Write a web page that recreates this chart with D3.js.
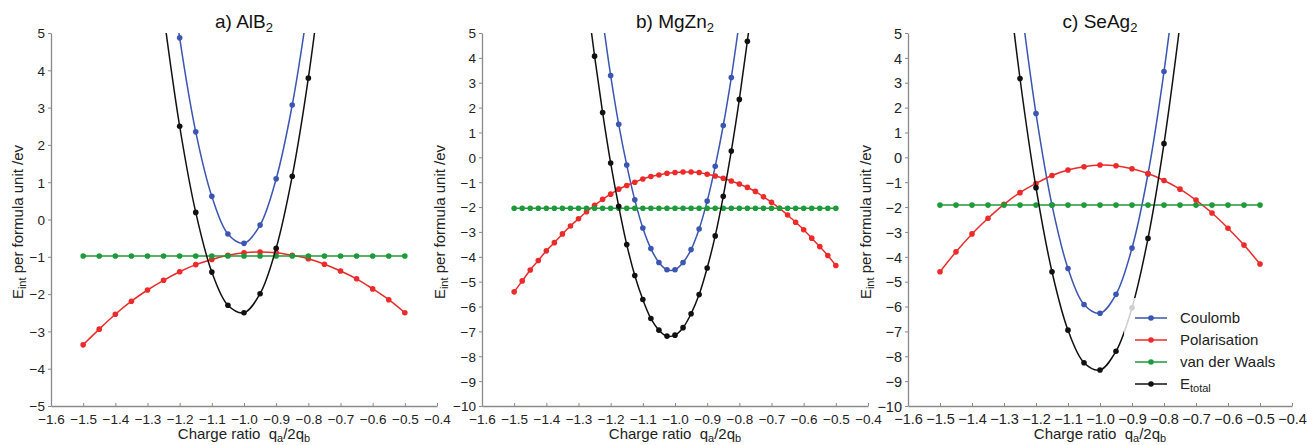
<!DOCTYPE html>
<html><head><meta charset="utf-8">
<script src="https://cdn.jsdelivr.net/npm/d3@7"></script>
<style>body{margin:0;background:#fff}svg{display:block}text{font-family:"Liberation Sans",Arial,sans-serif}</style>
</head><body>
<svg id="chart" width="1307" height="445"></svg>
<script>
// ---------- data ----------
const seriesNames = ["Coulomb", "Polarisation", "van der Waals", "E_total"];
const seriesColors = ["#3a55b2", "#ec2a2a", "#1f9a3a", "#111111"];
const xTicks = [-1.6,-1.5,-1.4,-1.3,-1.2,-1.1,-1.0,-0.9,-0.8,-0.7,-0.6,-0.5,-0.4];
const xStep05 = [-1.5,-1.45,-1.4,-1.35,-1.3,-1.25,-1.2,-1.15,-1.1,-1.05,-1.0,-0.95,-0.9,-0.85,-0.8,-0.75,-0.7,-0.65,-0.6,-0.55,-0.5];
const xStep025 = [-1.5,-1.475,-1.45,-1.425,-1.4,-1.375,-1.35,-1.325,-1.3,-1.275,-1.25,-1.225,-1.2,-1.175,-1.15,-1.125,-1.1,-1.075,-1.05,-1.025,-1.0,-0.975,-0.95,-0.925,-0.9,-0.875,-0.85,-0.825,-0.8,-0.775,-0.75,-0.725,-0.7,-0.675,-0.65,-0.625,-0.6,-0.575,-0.55,-0.525,-0.5];

// a) AlB2
const aCoulombX = [-1.25,-1.2,-1.15,-1.1,-1.05,-1.0,-0.95,-0.9,-0.85,-0.8];
const aCoulomb  = [8.14,4.87,2.35,0.62,-0.39,-0.64,-0.15,1.09,3.07,5.79];
const aPol      = [-3.36,-2.94,-2.54,-2.19,-1.89,-1.63,-1.40,-1.21,-1.07,-0.96,-0.89,-0.87,-0.89,-0.96,-1.05,-1.20,-1.38,-1.59,-1.86,-2.15,-2.50];
const aVdw      = [-0.98,-0.98,-0.98,-0.98,-0.98,-0.98,-0.98,-0.98,-0.98,-0.98,-0.98,-0.98,-0.98,-0.98,-0.98,-0.98,-0.98,-0.98,-0.98,-0.98,-0.98];
const aTotalX   = [-1.25,-1.2,-1.15,-1.1,-1.05,-1.0,-0.95,-0.9,-0.85,-0.8,-0.75];
const aTotal    = [5.52,2.50,0.19,-1.41,-2.30,-2.50,-1.99,-0.77,1.16,3.79,7.13];

// b) MgZn2
const bCoulombX = [-1.225,-1.2,-1.175,-1.15,-1.125,-1.1,-1.075,-1.05,-1.025,-1.0,-0.975,-0.95,-0.925,-0.9,-0.875,-0.85,-0.825,-0.8];
const bCoulomb  = [5.57,3.29,1.33,-0.31,-1.71,-2.84,-3.67,-4.23,-4.52,-4.52,-4.23,-3.71,-2.88,-1.76,-0.36,1.28,3.21,5.46];
const bPol      = [-5.41,-4.97,-4.53,-4.15,-3.76,-3.43,-3.08,-2.76,-2.47,-2.19,-1.93,-1.69,-1.48,-1.28,-1.13,-1.00,-0.87,-0.77,-0.71,-0.64,-0.61,-0.59,-0.59,-0.61,-0.68,-0.75,-0.84,-0.95,-1.07,-1.21,-1.37,-1.59,-1.81,-2.05,-2.32,-2.61,-2.91,-3.25,-3.59,-3.95,-4.35];
const bVdw      = [-2.05,-2.05,-2.05,-2.05,-2.05,-2.05,-2.05,-2.05,-2.05,-2.05,-2.05,-2.05,-2.05,-2.05,-2.05,-2.05,-2.05,-2.05,-2.05,-2.05,-2.05,-2.05,-2.05,-2.05,-2.05,-2.05,-2.05,-2.05,-2.05,-2.05,-2.05,-2.05,-2.05,-2.05,-2.05,-2.05,-2.05,-2.05,-2.05,-2.05,-2.05];
const bTotalX   = [-1.275,-1.25,-1.225,-1.2,-1.175,-1.15,-1.125,-1.1,-1.075,-1.05,-1.025,-1.0,-0.975,-0.95,-0.925,-0.9,-0.875,-0.85,-0.825,-0.8,-0.775,-0.75];
const bTotal    = [6.58,4.07,1.80,-0.23,-1.97,-3.51,-4.75,-5.72,-6.48,-6.95,-7.19,-7.15,-6.85,-6.29,-5.52,-4.45,-3.16,-1.57,0.25,2.33,4.67,7.27];

// c) SeAg2
const cCoulombX = [-1.25,-1.2,-1.15,-1.1,-1.05,-1.0,-0.95,-0.9,-0.85,-0.8,-0.75];
const cCoulomb  = [6.5,1.76,-1.92,-4.47,-5.92,-6.27,-5.51,-3.65,-0.67,3.45,8.6];
const cPol      = [-4.60,-3.80,-3.08,-2.45,-1.89,-1.42,-1.05,-0.73,-0.51,-0.38,-0.31,-0.34,-0.46,-0.65,-0.93,-1.28,-1.72,-2.24,-2.85,-3.53,-4.29];
const cVdw      = [-1.92,-1.92,-1.92,-1.92,-1.92,-1.92,-1.92,-1.92,-1.92,-1.92,-1.92,-1.92,-1.92,-1.92,-1.92,-1.92,-1.92,-1.92,-1.92,-1.92,-1.92];
const cTotalX   = [-1.3,-1.25,-1.2,-1.15,-1.1,-1.05,-1.0,-0.95,-0.9,-0.85,-0.8,-0.75];
const cTotal    = [8.58,3.17,-1.22,-4.60,-6.95,-8.26,-8.55,-7.80,-6.05,-3.26,0.55,5.36];

const aYTicks = [-5,-4,-3,-2,-1,0,1,2,3,4,5];
const bcYTicks = [-10,-9,-8,-7,-6,-5,-4,-3,-2,-1,0,1,2,3,4,5];

// ---------- layout ----------
const panels = [
  {id:"a", pre:"a) AlB", x0:51,  x1:437,  yDom:[-5,5],  yTicks:aYTicks, ylabX:17.5, tickFont:13.5,
   series:[[aCoulombX,aCoulomb],[xStep05,aPol],[xStep05,aVdw],[aTotalX,aTotal]]},
  {id:"b", pre:"b) MgZn", x0:482, x1:868, yDom:[-10,5], yTicks:bcYTicks, ylabX:440, tickFont:13.5,
   series:[[bCoulombX,bCoulomb],[xStep025,bPol],[xStep025,bVdw],[bTotalX,bTotal]]},
  {id:"c", pre:"c) SeAg", x0:908, x1:1292, yDom:[-10,5], yTicks:bcYTicks, ylabX:866, tickFont:14.5,
   series:[[cCoulombX,cCoulomb],[xStep05,cPol],[xStep05,cVdw],[cTotalX,cTotal]]}
];
const yTop = 33, yBot = 406;
const axisColor = "#8a8a8a";
const svg = d3.select("#chart");
const defs = svg.append("defs");

panels.forEach(p => {
  const x = d3.scaleLinear().domain([-1.6,-0.4]).range([p.x0,p.x1]);
  const y = d3.scaleLinear().domain(p.yDom).range([yBot,yTop]);
  const g = svg.append("g");

  // axes
  const xa = g.append("g").attr("transform",`translate(0,${yBot})`)
    .call(d3.axisBottom(x).tickValues(xTicks).tickFormat(d3.format(".1f")).tickSizeInner(-3).tickSizeOuter(0).tickPadding(8));
  const ya = g.append("g").attr("transform",`translate(${p.x0},0)`)
    .call(d3.axisLeft(y).tickValues(p.yTicks).tickFormat(d3.format("d")).tickSize(3).tickSizeOuter(0).tickPadding(3));
  [xa,ya].forEach(a => {
    a.select(".domain").attr("stroke",axisColor).attr("stroke-width",1.3);
    a.selectAll(".tick line").attr("stroke",axisColor).attr("stroke-width",1);
    a.selectAll(".tick text").attr("fill","#222").attr("font-size",p.tickFont)
      .attr("font-family",'"Liberation Sans",Arial,sans-serif');
  });
  ya.selectAll(".tick text").attr("dy","0.36em");

  // clip
  defs.append("clipPath").attr("id","clip"+p.id).append("rect")
    .attr("x",p.x0).attr("y",yTop).attr("width",p.x1-p.x0).attr("height",yBot-yTop);
  const plot = g.append("g").attr("clip-path",`url(#clip${p.id})`);

  const line = d3.line().x(d=>x(d[0])).y(d=>y(d[1])).curve(d3.curveCatmullRom.alpha(0.5));
  p.series.forEach((s,i) => {
    const pts = s[0].map((xv,k)=>[xv,s[1][k]]);
    plot.append("path").datum(pts).attr("d",line).attr("fill","none")
      .attr("stroke",seriesColors[i]).attr("stroke-width",1.5);
    plot.selectAll(null).data(pts).enter().append("circle")
      .attr("cx",d=>x(d[0])).attr("cy",d=>y(d[1])).attr("r",2.8).attr("fill",seriesColors[i]);
  });

  // title
  const cx = (p.x0+p.x1)/2;
  const t = g.append("text").attr("x",cx).attr("y",28).attr("text-anchor","middle")
    .attr("font-size",19).attr("fill","#111");
  t.append("tspan").text(p.pre);
  t.append("tspan").attr("font-size",13).attr("dy",4).text("2");

  // x label
  const xl = g.append("text").attr("x",cx).attr("y",439).attr("text-anchor","middle")
    .attr("font-size",15).attr("fill","#222");
  xl.append("tspan").text("Charge ratio\u00a0\u00a0q");
  xl.append("tspan").attr("font-size",11).attr("dy",2.5).text("a");
  xl.append("tspan").attr("dy",-2.5).text("/2q");
  xl.append("tspan").attr("font-size",11).attr("dy",2.5).text("b");

  // y label
  const yl = g.append("text").attr("transform",`translate(${p.ylabX},222) rotate(-90)`)
    .attr("text-anchor","middle").attr("dy","0.35em").attr("font-size",15).attr("fill","#222");
  yl.append("tspan").text("E");
  yl.append("tspan").attr("font-size",11).attr("dy",3).text("int");
  yl.append("tspan").attr("dy",-3).text(" per formula unit /ev");

  if (p.id === "c") {
    svg.append("rect").attr("x",1124).attr("y",298).attr("width",166).attr("height",100)
      .attr("fill","#fff").attr("fill-opacity",0.8);
    const lg = svg.append("g");
    seriesNames.forEach((n,i) => {
      const yy = 318 + i*22;
      lg.append("line").attr("x1",1135).attr("x2",1167).attr("y1",yy).attr("y2",yy)
        .attr("stroke",seriesColors[i]).attr("stroke-width",1.5);
      lg.append("circle").attr("cx",1151).attr("cy",yy).attr("r",2.8).attr("fill",seriesColors[i]);
      const tx = lg.append("text").attr("x",1180).attr("y",yy).attr("dy","0.36em")
        .attr("font-size",15).attr("fill","#222");
      if (n === "E_total") {
        tx.append("tspan").text("E");
        tx.append("tspan").attr("font-size",11).attr("dy",3).text("total");
      } else tx.text(n);
    });
  }
});
</script>
</body></html>
